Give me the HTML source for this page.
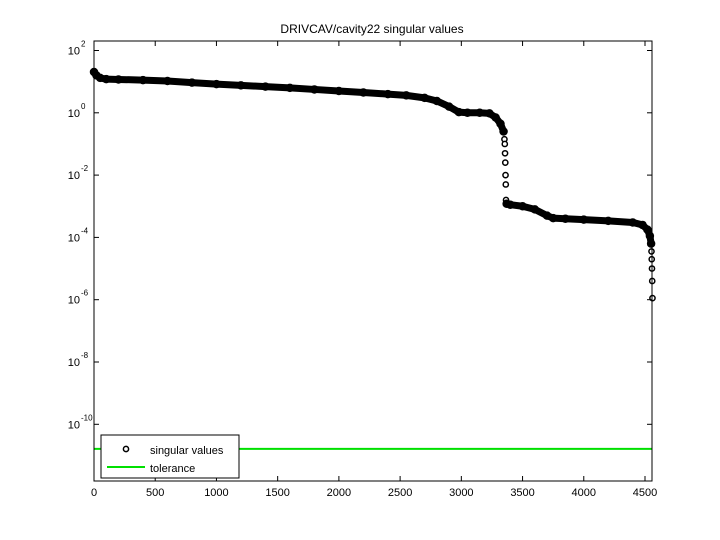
<!DOCTYPE html>
<html><head><meta charset="utf-8"><style>
body{margin:0;background:#fff}
svg{display:block;font-family:"Liberation Sans",sans-serif}
</style></head><body>
<svg id="chart" width="720" height="540">
<rect width="720" height="540" fill="#fff"/>
<text x="372" y="33" font-size="12" text-anchor="middle">DRIVCAV/cavity22 singular values</text>
<g id="plot"></g>
<g id="axes"></g>
</svg>
<script>
const idx=[0,20,50,100,200,400,600,800,1000,1200,1400,1600,1800,2000,2200,2400,2550,2700,2800,2900,2980,3050,3150,3230,3280,3320,3345,3352,3355,3357,3359,3361,3363,3365,3370,3400,3500,3600,3700,3750,3850,4000,4200,4400,4480,4520,4540,4550,4553,4555,4557,4559,4561];
const logVals=[1.31,1.2,1.12,1.08,1.07,1.05,1.02,0.97,0.92,0.88,0.84,0.8,0.75,0.7,0.65,0.6,0.56,0.48,0.38,0.2,0.02,0,0,-0.02,-0.15,-0.35,-0.6,-0.85,-1.0,-1.3,-1.6,-2.0,-2.3,-2.8,-2.92,-2.95,-3.0,-3.1,-3.3,-3.38,-3.4,-3.43,-3.47,-3.52,-3.6,-3.75,-3.95,-4.2,-4.45,-4.7,-5.0,-5.4,-5.95];
const tolLog=[-10.79];
const xTicks=[0,500,1000,1500,2000,2500,3000,3500,4000,4500];
const yTicks=[2,0,-2,-4,-6,-8,-10];
const NS='http://www.w3.org/2000/svg';
const L=94,R=652,T=41,B=481;
const X=v=>L+v*(645-94)/4500;
const Y=lg=>50.5+(2-lg)*31.15;
function mk(tag,attrs,parent){const e=document.createElementNS(NS,tag);for(const k in attrs)e.setAttribute(k,attrs[k]);parent.appendChild(e);return e;}
const plot=document.getElementById('plot'),axes=document.getElementById('axes');
const vals=logVals.map(v=>Math.pow(10,v));
const pts=idx.map((i,k)=>[X(i),Y(Math.log10(vals[k]))]);
const onBand=idx.map(()=>false);
for(let k=1;k<pts.length;k++){
 const [x0,y0]=pts[k-1],[x1,y1]=pts[k];
 if(idx[k]-idx[k-1]>=10){
  onBand[k]=true;onBand[k-1]=true;
  const s=mk('line',{x1:x0,y1:y0,x2:x1,y2:y1,stroke:'#000','stroke-width':7,'stroke-linecap':'round'},plot);
  
  
 }
}
pts.forEach((p,k)=>{
 const c=mk('circle',{cx:p[0],cy:p[1],r:onBand[k]?3.5:2.6,fill:onBand[k]?'#000':'#fff',stroke:'#000','stroke-width':1.5},plot);
 
 
});
const tl=mk('line',{x1:L,x2:R,y1:Y(tolLog[0]),y2:Y(tolLog[0]),stroke:'#00e000','stroke-width':2},plot);


const frame=mk('rect',{x:L,y:T,width:R-L,height:B-T,fill:'none',stroke:'#000','stroke-width':1},axes);


xTicks.forEach(t=>{
 const x=X(t);
 mk('line',{x1:x,x2:x,y1:B,y2:B-5,stroke:'#000'},axes);
 mk('line',{x1:x,x2:x,y1:T,y2:T+5,stroke:'#000'},axes);
 const tx=mk('text',{x:x,y:B+15,'font-size':11,'text-anchor':'middle'},axes);
 tx.textContent=t;
 
 
});
yTicks.forEach(t=>{
 const y=Y(t);
 mk('line',{x1:L,x2:L+5,y1:y,y2:y,stroke:'#000'},axes);
 mk('line',{x1:R,x2:R-5,y1:y,y2:y,stroke:'#000'},axes);
 const tx=mk('text',{x:80,y:y+4,'font-size':11,'text-anchor':'end'},axes);
 tx.textContent='10';
 
 
 const ex=mk('text',{x:81,y:y-4,'font-size':8,'text-anchor':'start'},axes);
 ex.textContent=String(t);
 
 
});
const lg=mk('g',{},axes);


mk('rect',{x:101,y:435,width:138,height:43,fill:'#fff',stroke:'#000'},lg);
const lc=mk('circle',{cx:126,cy:449,r:2.6,fill:'#fff',stroke:'#000','stroke-width':1.5},lg);


const t1=mk('text',{x:150,y:454,'font-size':11},lg);t1.textContent='singular values';


const ll=mk('line',{x1:107,x2:145,y1:467,y2:467,stroke:'#00e000','stroke-width':2},lg);


const t2=mk('text',{x:150,y:472,'font-size':11},lg);t2.textContent='tolerance';


</script>
</body></html>
